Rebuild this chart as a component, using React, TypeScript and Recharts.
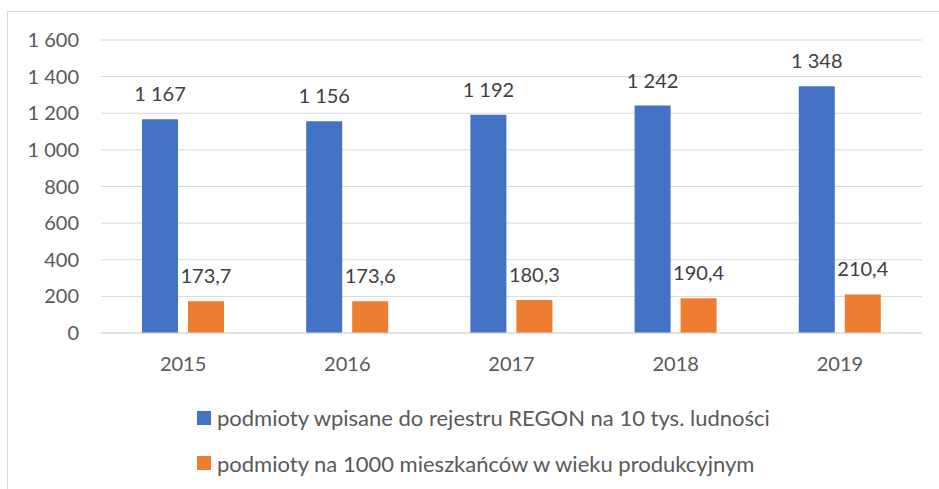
import React from 'react';
import { BarChart, Bar, XAxis, YAxis, CartesianGrid, Legend, LabelList } from 'recharts';

const years = ['2015', '2016', '2017', '2018', '2019'];
const regonPer10k = [1167, 1156, 1192, 1242, 1348];
const perThousandWorkingAge = [173.7, 173.6, 180.3, 190.4, 210.4];
const yTicks = [0, 200, 400, 600, 800, 1000, 1200, 1400, 1600];
const seriesNames = [
  'podmioty wpisane do rejestru REGON na 10 tys. ludności',
  'podmioty na 1000 mieszkańców w wieku produkcyjnym',
];

const data = years.map((y, i) => ({
  year: y,
  regon: regonPer10k[i],
  prod: perThousandWorkingAge[i],
}));

const fmtInt = (v: number) => {
  const s = String(Math.round(v));
  return s.replace(/\B(?=(\d{3})+(?!\d))/g, ' ');
};
const fmtDec = (v: number) => v.toFixed(1).replace('.', ',');

const makeLabel = (fmt: (v: number) => string) => (props: any) => {
  const { x, y, width, value } = props;
  return (
    <text
      x={Number(x) + Number(width) / 2}
      y={Number(y) - 18}
      textAnchor="middle"
      fill="#404040"
      fontSize={20}
    >
      {fmt(Number(value))}
    </text>
  );
};

const LegendContent = (props: any) => {
  const payload = [...(props.payload || [])].sort(
    (a: any, b: any) => seriesNames.indexOf(a.value) - seriesNames.indexOf(b.value)
  );
  return (
    <div style={{ position: 'relative', height: 100, width: 939 }}>
      {payload.map((p: any, i: number) => (
        <div
          key={i}
          style={{
            position: 'absolute',
            left: 197,
            top: 44.5 + i * 45.5 - 15,
            height: 30,
            display: 'flex',
            alignItems: 'center',
            whiteSpace: 'nowrap',
          }}
        >
          <span style={{ display: 'inline-block', width: 14, height: 14, background: p.color, marginRight: 6 }} />
          <span style={{ fontSize: 22, color: '#595959', fontFamily: 'Lato' }}>{p.value}</span>
        </div>
      ))}
    </div>
  );
};

export default function App() {
  return (
    <div
      style={{
        position: 'absolute',
        left: 0,
        top: 0,
        width: 939,
        height: 489,
        overflow: 'hidden',
        background: '#fff',
        fontFamily: 'Lato',
      }}
    >
      <div
        style={{
          position: 'absolute',
          left: 7,
          top: 11,
          width: 1000,
          height: 1000,
          border: '1px solid #d9d9d9',
        }}
      />
      <div style={{ position: 'absolute', left: 0, top: 0 }}>
        <BarChart
          width={939}
          height={489}
          data={data}
          margin={{ top: 40, right: 17, left: 0, bottom: 16 }}
          barSize={36}
          barGap={10}
        >
          <CartesianGrid vertical={false} stroke="#d9d9d9" strokeWidth={1} />
          <XAxis
            dataKey="year"
            height={40}
            tickLine={false}
            axisLine={{ stroke: '#d9d9d9' }}
            tickMargin={18}
            tick={{ fill: '#595959', fontSize: 20 }}
          />
          <YAxis
            width={101}
            domain={[0, 1600]}
            ticks={yTicks}
            tickLine={false}
            axisLine={false}
            tickMargin={16}
            tickFormatter={fmtInt}
            tick={{ fill: '#595959', fontSize: 20 }}
          />
          <Legend verticalAlign="bottom" align="left" layout="horizontal" content={<LegendContent />} />
          <Bar dataKey="regon" name={seriesNames[0]} fill="#4472C4" isAnimationActive={false}>
            <LabelList dataKey="regon" content={makeLabel(fmtInt)} />
          </Bar>
          <Bar dataKey="prod" name={seriesNames[1]} fill="#ED7D31" isAnimationActive={false}>
            <LabelList dataKey="prod" content={makeLabel(fmtDec)} />
          </Bar>
        </BarChart>
      </div>
    </div>
  );
}
